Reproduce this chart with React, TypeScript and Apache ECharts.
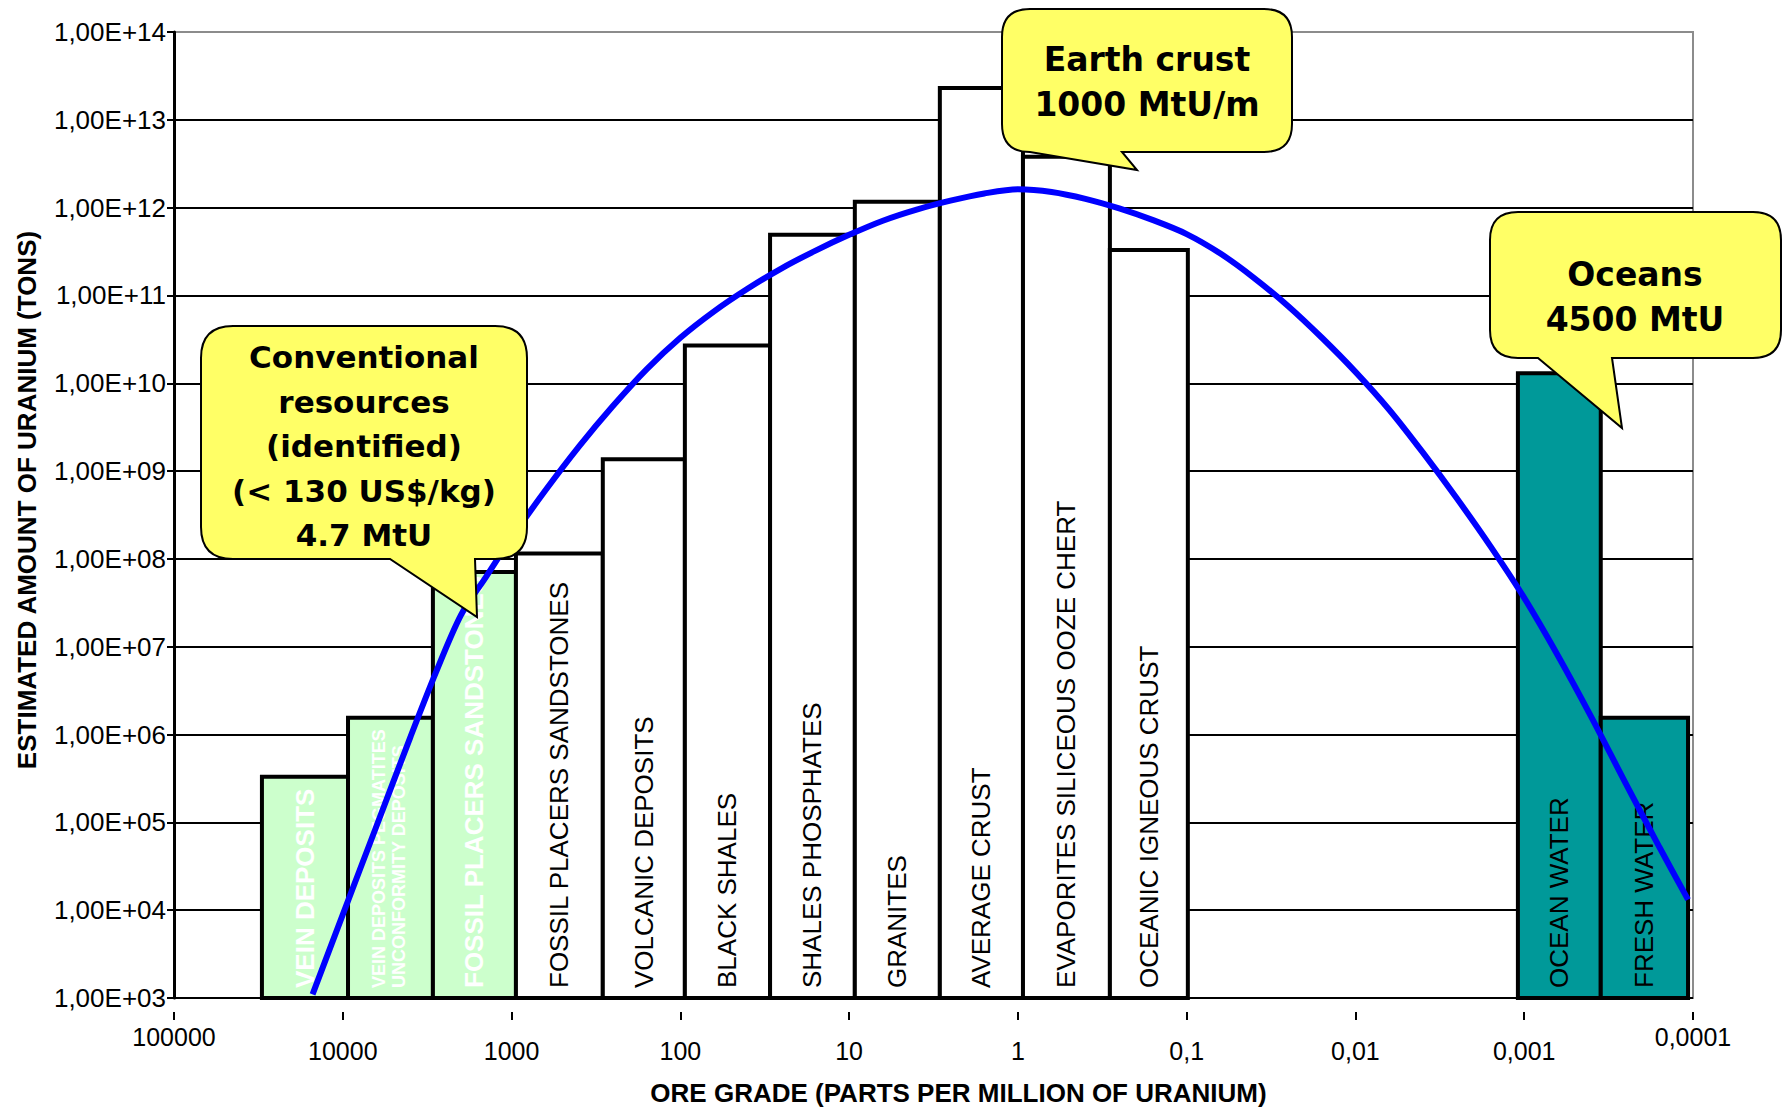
import React, { useEffect, useRef } from 'react';
import * as echarts from 'echarts';

// ---------- data ----------
const xTickLabels = ['0,0001', '0,001', '0,01', '0,1', '1', '10', '100', '1000', '10000', '100000'];
const yTickLabels = [
  '1,00E+03', '1,00E+04', '1,00E+05', '1,00E+06', '1,00E+07', '1,00E+08',
  '1,00E+09', '1,00E+10', '1,00E+11', '1,00E+12', '1,00E+13', '1,00E+14',
];

const barNames = [
  'VEIN DEPOSITS',
  'VEIN DEPOSITS PEGMATITES\nUNCONFORMITY DEPOSITS',
  'FOSSIL PLACERS SANDSTONES',
  'FOSSIL PLACERS SANDSTONES',
  'VOLCANIC DEPOSITS',
  'BLACK SHALES',
  'SHALES PHOSPHATES',
  'GRANITES',
  'AVERAGE CRUST',
  'EVAPORITES SILICEOUS OOZE CHERT',
  'OCEANIC IGNEOUS CRUST',
  'OCEAN WATER',
  'FRESH WATER',
];
// ore grade range of each bar (ppm U)
const barGradeHigh = [30130, 9311, 2924, 942, 288, 94, 29.4, 9.25, 2.9, 0.933, 0.285, 0.00109, 0.000352];
const barGradeLow = [9311, 2924, 942, 288, 94, 29.4, 9.25, 2.9, 0.933, 0.285, 0.0984, 0.000352, 0.000107];
// estimated amount of uranium (tons)
const barTonnes = [3.3e5, 1.55e6, 7.1e7, 1.15e8, 1.36e9, 2.7e10, 4.9e11, 1.17e12, 2.3e13, 3.8e12, 3.3e11, 1.3e10, 1.55e6];
const barKind = [
  'conventional', 'conventional', 'conventional',
  'rock', 'rock', 'rock', 'rock', 'rock', 'rock', 'rock', 'rock',
  'water', 'water',
];

// fitted distribution curve
const curveGrade = [
  1.51e4, 1e4, 6310, 3981, 2818, 1995, 1413, 1000, 631, 398, 251, 158, 100, 63.1, 39.8, 25.1, 15.8,
  10, 6.31, 3.98, 2.51, 1.58, 1, 0.631, 0.398, 0.251, 0.158, 0.1, 0.0631, 0.0398, 0.0251, 0.0158,
  0.01, 0.00631, 0.00398, 0.00251, 0.00158, 0.001, 0.000631, 0.000398, 0.000251, 0.000158, 0.000107,
];
const curveTons = [
  1.1e3, 8.9e3, 9.1e4, 9.3e5, 5.0e6, 2.29e7, 6.3e7, 1.74e8, 6.0e8, 1.91e9, 5.5e9, 1.45e10, 3.3e10,
  6.6e10, 1.2e11, 2.04e11, 3.24e11, 4.9e11, 7.1e11, 9.5e11, 1.2e12, 1.45e12, 1.62e12, 1.51e12,
  1.26e12, 9.8e11, 7.2e11, 5.0e11, 3.0e11, 1.58e11, 7.6e10, 3.3e10, 1.35e10, 5.0e9, 1.62e9, 4.9e8,
  1.38e8, 3.6e7, 7.9e6, 1.55e6, 2.8e5, 5.2e4, 1.32e4,
];

const xMin = 0.0001;
const xMax = 100000;
const yMin = 1000;
const yMax = 1e14;

// ---------- styling ----------
const FONT = '"Liberation Sans", Arial, Helvetica, sans-serif';
const CALLOUT_FONT = '"Comic Sans MS", "DejaVu Sans", sans-serif';
const CALLOUT_FILL = '#ffff66';

const kindStyle: Record<string, { fill: string; text: string; weight: string }> = {
  conventional: { fill: '#ccffcc', text: '#ffffff', weight: 'bold' },
  rock: { fill: '#ffffff', text: '#000000', weight: 'normal' },
  water: { fill: '#009999', text: '#000000', weight: 'normal' },
};

function bubblePath(x1: number, y1: number, x2: number, y2: number, r: number,
  xa: number, xb: number, tx: number, ty: number) {
  return `M${x1 + r} ${y1} H${x2 - r} Q${x2} ${y1} ${x2} ${y1 + r} V${y2 - r} ` +
    `Q${x2} ${y2} ${x2 - r} ${y2} H${xb} L${tx} ${ty} L${xa} ${y2} H${x1 + r} ` +
    `Q${x1} ${y2} ${x1} ${y2 - r} V${y1 + r} Q${x1} ${y1} ${x1 + r} ${y1} Z`;
}

const callouts = [
  {
    shape: 'calloutEarth', d: bubblePath(1002, 9, 1292, 152, 28, 1030, 1122, 1137, 170),
    text: 'Earth crust\n1000 MtU/m', cx: 1147, cy: 81.5, size: 33, lh: 45,
  },
  {
    shape: 'calloutOceans', d: bubblePath(1490, 212, 1781, 358, 28, 1538, 1612, 1622, 428),
    text: 'Oceans\n4500 MtU', cx: 1635, cy: 296.5, size: 33, lh: 45,
  },
  {
    shape: 'calloutConv', d: bubblePath(201, 326, 527, 559, 32, 390, 475, 477, 617),
    text: 'Conventional\nresources\n(identified)\n(< 130 US$/kg)\n4.7 MtU', cx: 364, cy: 446, size: 31, lh: 44.5,
  },
];

callouts.forEach((c) => {
  echarts.graphic.registerShape(c.shape, echarts.graphic.extendPath(c.d, {}) as any);
});

function buildOption(): any {
  const barData = barNames.map((_, i) => [barGradeHigh[i], barGradeLow[i], barTonnes[i], i]);
  const curveData = curveGrade.map((g, i) => [g, curveTons[i]]);

  const graphics: any[] = [];
  callouts.forEach((c) => {
    graphics.push({
      type: c.shape, x: 0, y: 0, z: 100, silent: true,
      style: { fill: CALLOUT_FILL, stroke: '#000', lineWidth: 2 },
    });
    graphics.push({
      type: 'text', x: c.cx, y: c.cy, z: 101, silent: true,
      style: {
        text: c.text, fill: '#000', fontSize: c.size, fontWeight: 'bold', fontFamily: CALLOUT_FONT,
        align: 'center', verticalAlign: 'middle', lineHeight: c.lh,
      },
    });
  });

  return {
    animation: false,
    backgroundColor: '#ffffff',
    grid: {
      left: 174, right: 91, top: 32, bottom: 111,
      show: true, borderColor: '#8c8c8c', borderWidth: 2, backgroundColor: 'transparent',
      outerBoundsMode: 'none',
    },
    xAxis: {
      type: 'log', logBase: 10, min: xMin, max: xMax, inverse: true, splitNumber: 9,
      offset: 14,
      axisLine: { show: false },
      axisTick: { show: true, length: 8, lineStyle: { color: '#000', width: 2 } },
      splitLine: { show: false },
      axisLabel: {
        margin: 12, color: '#000', fontFamily: FONT, fontSize: 25,
        formatter: (v: number) => {
          const e = Math.round(Math.log10(v));
          const s = xTickLabels[e + 4];
          return e === 5 || e === -4 ? `{e|${s}}` : `{m|${s}}`;
        },
        rich: {
          e: { color: '#000', fontFamily: FONT, fontSize: 25 },
          m: { color: '#000', fontFamily: FONT, fontSize: 25, padding: [14, 0, 0, 0] },
        },
      },
      name: 'ORE GRADE (PARTS PER MILLION OF URANIUM)',
      nameLocation: 'middle', nameGap: 68,
      nameTextStyle: {
        color: '#000', fontFamily: FONT, fontSize: 26, fontWeight: 'bold', padding: [0, 0, 0, 50],
      },
    },
    yAxis: {
      type: 'log', logBase: 10, min: yMin, max: yMax, interval: 1,
      axisLine: { show: true, lineStyle: { color: '#000', width: 3 } },
      axisTick: { show: true, length: 7, lineStyle: { color: '#000', width: 2 } },
      axisLabel: {
        margin: 8, color: '#000', fontFamily: FONT, fontSize: 26,
        formatter: (v: number) => yTickLabels[Math.round(Math.log10(v)) - 3],
      },
      splitLine: { show: true, showMaxLine: false, lineStyle: { color: '#000', width: 2 } },
      name: 'ESTIMATED AMOUNT OF URANIUM (TONS)',
      nameLocation: 'middle', nameRotate: 90, nameGap: 134,
      nameTextStyle: {
        color: '#000', fontFamily: FONT, fontSize: 26, fontWeight: 'bold', padding: [0, 0, 0, 30],
      },
    },
    series: [
      {
        type: 'custom',
        coordinateSystem: 'cartesian2d',
        silent: true,
        z: 3,
        encode: { x: [0, 1], y: 2 },
        data: barData,
        renderItem: (params: any, api: any) => {
          const i = api.value(3);
          const hi = api.coord([api.value(0), api.value(2)]);
          const lo = api.coord([api.value(1), yMin]);
          const x0 = Math.min(hi[0], lo[0]);
          const w = Math.abs(lo[0] - hi[0]);
          const top = hi[1];
          const bottom = lo[1];
          const ks = kindStyle[barKind[i]];
          const label = barNames[i];
          const multi = label.indexOf('\n') >= 0;
          return {
            type: 'group',
            children: [
              {
                type: 'rect',
                shape: { x: x0, y: top, width: w, height: bottom - top },
                style: { fill: ks.fill, stroke: '#000', lineWidth: 4 },
              },
              {
                type: 'text',
                x: x0 + w / 2 + (multi ? -1 : 0),
                y: bottom - 10,
                rotation: Math.PI / 2,
                style: {
                  text: label,
                  fill: ks.text,
                  fontFamily: FONT,
                  fontSize: multi ? 18 : 26,
                  fontWeight: ks.weight,
                  lineHeight: multi ? 20 : 30,
                  align: 'left',
                  verticalAlign: 'middle',
                },
              },
            ],
          };
        },
      },
      {
        type: 'line',
        data: curveData,
        smooth: 0.3,
        showSymbol: false,
        symbol: 'none',
        silent: true,
        z: 5,
        lineStyle: { color: '#0000ff', width: 6 },
      },
    ],
    graphic: graphics,
  };
}

export default function App() {
  const ref = useRef<HTMLDivElement>(null);
  useEffect(() => {
    const chart = echarts.init(ref.current as HTMLDivElement, null, { renderer: 'svg' });
    chart.setOption(buildOption());
    return () => chart.dispose();
  }, []);
  return (
    <div
      ref={ref}
      style={{ position: 'absolute', left: 0, top: 0, width: 1784, height: 1109, background: '#fff' }}
    />
  );
}
